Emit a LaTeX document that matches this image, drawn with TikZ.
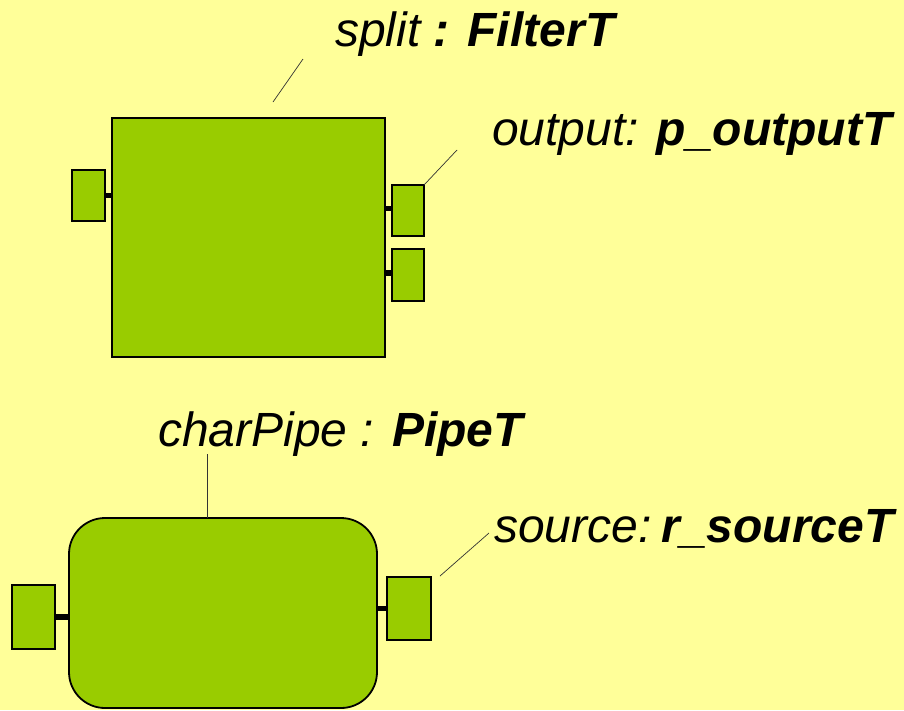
\documentclass[tikz,border=0pt]{standalone}
\usepackage{fontspec}
\setmainfont{Liberation Sans}
\definecolor{paper}{HTML}{FFFF99}
\definecolor{part}{HTML}{99CC00}
\begin{document}
\begin{tikzpicture}[x=1pt, y=-1pt,
        part/.style={draw, fill=part, line width=1.8pt, inner sep=0, outer sep=0},
        port/.style={draw, fill=part, line width=1.2pt, inner sep=0, outer sep=0},
        link/.style={line width=5.5pt},
        leader/.style={line width=0.7pt, draw=black!80},
        label/.style={anchor=base west, inner sep=0, font=\fontsize{48}{56}\selectfont\itshape}]
        \fill [paper] (0, 0) rectangle (904, 710);
        \useasboundingbox (0, 0) rectangle (904, 710);
        % filter part with its ports
        \node [part, minimum width=273, minimum height=239] (split) at (248.5, 237.5) {};
        \node [port, minimum width=33, minimum height=51] (inL) at (88.5, 195.5) {};
        \node [port, minimum width=32, minimum height=51] (out1) at (408, 210.5) {};
        \node [port, minimum width=32, minimum height=52] (out2) at (408, 275) {};
        \draw [link] (inL.east) -- (inL.east -| split.west);
        \draw [link] ([yshift=2]out1.west) -- ([yshift=2]out1.west -| split.east);
        \draw [link] ([yshift=2]out2.west) -- ([yshift=2]out2.west -| split.east);
        % pipe part with its ports
        \node [part, rounded corners=36, minimum width=308, minimum height=190] (pipe) at (223, 613) {};
        \node [port, minimum width=43, minimum height=64] (pin) at (33.5, 617) {};
        \node [port, minimum width=44, minimum height=63] (pout) at (409, 608.5) {};
        \draw [link] (pin.east) -- (pin.east -| pipe.west);
        \draw [link] (pout.west) -- (pout.west -| pipe.east);
        % labels
        \node [label] (splitlbl) at (335, 46) {split \bfseries: FilterT};
        \node [label] (outlbl) at (492, 145) {output: \textbf{p\_outputT}};
        \node [label] (pipelbl) at (158, 446) {charPipe : \textbf{PipeT}};
        \node [label] (srclbl) at (494, 542) {source:\hspace{10pt}\textbf{r\_sourceT}};
        \coordinate (splittip) at (303, 59);
        \coordinate (outtip) at (457, 150);
        \coordinate (pipetip) at (207, 454);
        \coordinate (srctip) at (489, 533);
        \draw [leader] (273, 102) -- (splittip);
        \draw [leader] (out1.north east) -- (outtip);
        \draw [leader] (pipe.north -| pipetip) -- (pipetip);
        \draw [leader] (440, 576) -- (srctip);
    \end{tikzpicture}
\end{document}
